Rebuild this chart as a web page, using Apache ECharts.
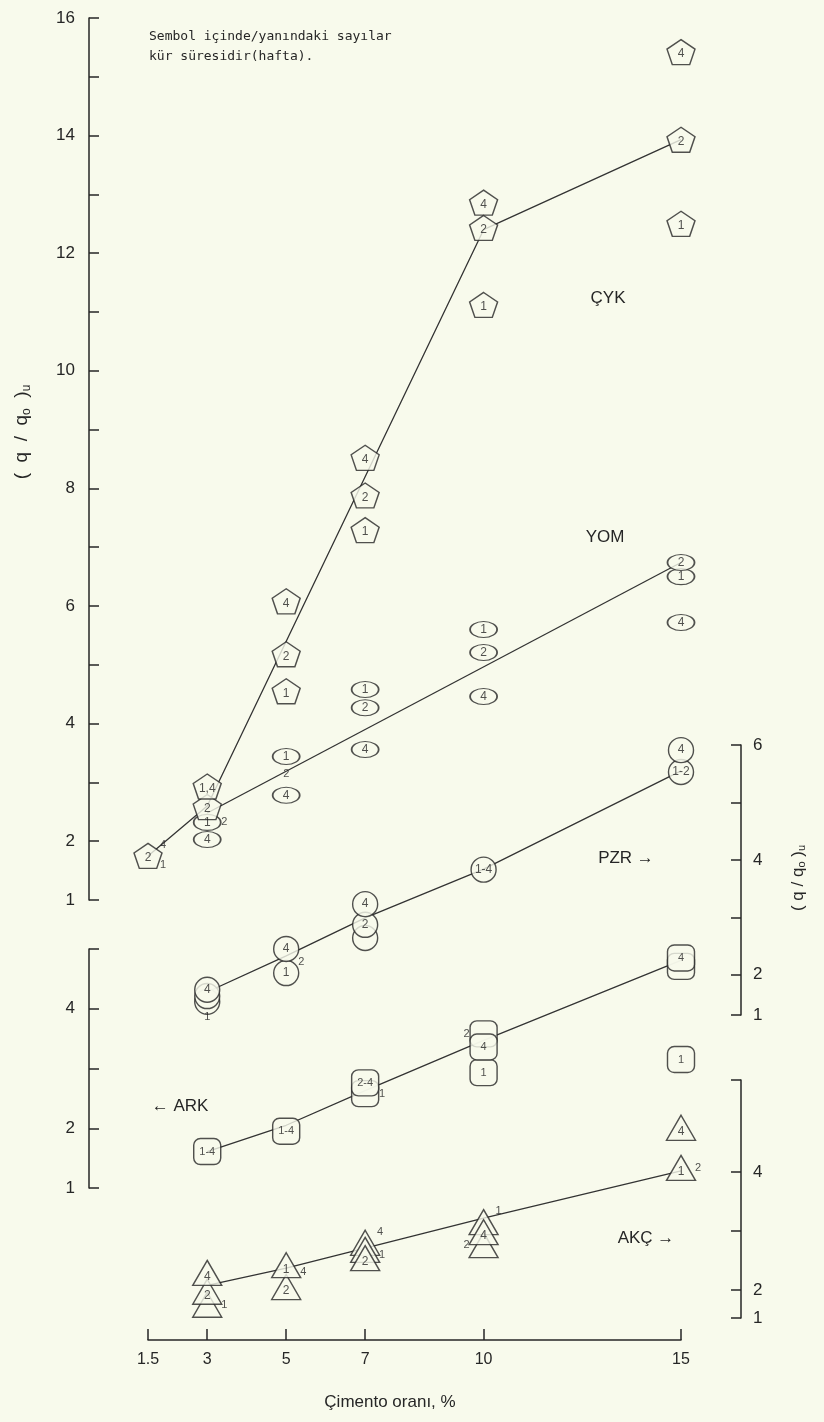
<!DOCTYPE html>
<html><head><meta charset="utf-8">
<script src="https://cdn.jsdelivr.net/npm/echarts@6/dist/echarts.min.js"></script>
<style>html,body{margin:0;padding:0;background:#f8faec}#c{width:824px;height:1422px}</style>
</head><body><div id="c"></div>
<script>
// ---------- data ----------
const xTicks = [1.5, 3, 5, 7, 10, 15];
const leftTopLabels = [1, 2, 4, 6, 8, 10, 12, 14, 16];
const arkLabels = [1, 2, 4];
const pzrLabels = [1, 2, 4, 6];
const akcLabels = [1, 2, 4];

// [cement %, (q/qo)u, cure weeks label]
const cykPoints = [
  [1.5, 1.75, '2'],
  [3, 2.58, '2'], [3, 2.93, '1,4'],
  [5, 4.55, '1'], [5, 5.18, '2'], [5, 6.08, '4'],
  [7, 7.29, '1'], [7, 7.88, '2'], [7, 8.52, '4'],
  [10, 11.12, '1'], [10, 12.86, '4'], [10, 12.43, '2'],
  [15, 12.5, '1'], [15, 13.93, '2'], [15, 15.42, '4']
];
const cykLine = [[1.5, 1.75], [3, 2.6], [10, 12.4], [15, 13.93]];
const cykNotes = [[1.5, 1.75, '4', 'ne'], [1.5, 1.75, '1', 'se']];

const yomPoints = [
  [3, 2.03, '4'], [3, 2.32, '1'],
  [5, 2.78, '4'], [5, 3.44, '1'],
  [7, 3.56, '4'], [7, 4.27, '2'], [7, 4.58, '1'],
  [10, 4.46, '4'], [10, 5.21, '2'], [10, 5.6, '1'],
  [15, 5.72, '4'], [15, 6.5, '1'], [15, 6.74, '2']
];
const yomLine = [[3, 2.48], [15, 6.74]];
const yomNotes = [[3, 2.32, '2', 'e'], [5, 3.14, '2', 'c']];

const pzrPoints = [
  [3, 1.53, ''], [3, 1.63, ''], [3, 1.74, '4'],
  [5, 2.03, '1'], [5, 2.45, '4'],
  [7, 2.64, ''], [7, 2.87, '2'], [7, 3.23, '4'],
  [10, 3.83, '1-4'],
  [15, 5.53, '1-2'], [15, 5.91, '4']
];
const pzrLine = [[3, 1.7], [5, 2.33], [7, 2.99], [10, 3.84], [15, 5.55]];
const pzrNotes = [[3, 1.53, '1', 's'], [5, 2.03, '2', 'ne']];

const arkPoints = [
  [3, 1.61, '1-4'],
  [5, 1.95, '1-4'],
  [7, 2.58, ''], [7, 2.76, '2-4'],
  [10, 3.58, ''], [10, 2.93, '1'], [10, 3.36, '4'],
  [15, 4.71, ''], [15, 4.85, '4'],
  [15, 3.15, '1']
];
const arkLine = [[3, 1.61], [5, 2.05], [7, 2.63], [10, 3.47], [15, 4.81]];
const arkNotes = [[7, 2.58, '1', 'e'], [10, 3.58, '2', 'w']];

const akcPoints = [
  [3, 1.75, ''], [3, 1.97, '2'], [3, 2.29, '4'],
  [5, 2.05, '2'], [5, 2.42, '1'],
  [7, 2.8, ''], [7, 2.68, ''], [7, 2.54, '2'],
  [10, 3.15, ''], [10, 2.76, ''], [10, 2.98, '4'],
  [15, 4.07, '1'], [15, 4.75, '4']
];
const akcLine = [[3, 2.08], [5, 2.37], [7, 2.71], [10, 3.22], [15, 4.02]];
const akcNotes = [[3, 1.75, '1', 'e'], [5, 2.3, '4', 'e'], [7, 2.8, '4', 'ne'], [7, 2.6, '1', 'e'],
  [10, 3.15, '1', 'ne'], [10, 2.76, '2', 'w'], [15, 4.07, '2', 'e']];

// ---------- style ----------
const BG = '#f8faec', INK = '#262626';
const FONT = 'Liberation Sans';
const PZR_MIN = 1.3, AKC_MIN = 1.525, AKC_MAX = 5.56;
const pentagon = 'path://M50,0 L100,38 L81,100 L19,100 L0,38 Z';

const chart = echarts.init(document.getElementById('c'), null, {renderer: 'canvas'});

const grids = [
  {left: 148, width: 533, top: 18, height: 882},    // CYK / YOM
  {left: 148, width: 533, top: 949, height: 239},   // ARK
  {left: 148, width: 533, top: 745, height: 270},   // PZR
  {left: 148, width: 533, top: 1080, height: 238}   // AKC
];

function xAx(i, show) {
  return {
    gridIndex: i, type: 'value', min: 1.5, max: 15, show: show,
    position: 'bottom', offset: 22,
    axisLine: {show: true, lineStyle: {color: INK, width: 1.5}},
    axisTick: {show: true, inside: true, length: 11, customValues: xTicks, lineStyle: {color: INK, width: 1.5}},
    axisLabel: {show: true, customValues: xTicks, color: INK, fontFamily: FONT, fontSize: 16, margin: 12},
    splitLine: {show: false}
  };
}
function yAx(i, pos, min, max, tickVals, labelVals, fmt) {
  return {
    gridIndex: i, type: 'value', min: min, max: max, position: pos, offset: pos === 'left' ? 59 : 60,
    axisLine: {show: true, lineStyle: {color: INK, width: 1.5}},
    axisTick: {show: true, inside: true, length: 10, customValues: tickVals, lineStyle: {color: INK, width: 1.5}},
    axisLabel: {show: true, customValues: labelVals, color: INK, fontFamily: FONT, fontSize: 17,
      margin: pos === 'left' ? 14 : 12, formatter: fmt || (v => String(v))},
    splitLine: {show: false}
  };
}
const range = (a, b) => { const r = []; for (let v = a; v <= b; v++) r.push(v); return r; };

const offsets = {e: [17, 0], ne: [15, -11], se: [15, 9], w: [-17, 0], s: [0, 15], c: [0, 0]};

function markSeries(idx, pts, symbol, size, labelOffset, fs) {
  return {
    type: 'scatter', xAxisIndex: idx, yAxisIndex: idx, z: 3,
    symbol: symbol, symbolSize: size,
    itemStyle: {color: BG, borderColor: INK, borderWidth: 1.4},
    label: {show: true, position: 'inside', offset: labelOffset, color: INK, fontFamily: FONT, fontSize: fs || 12,
      formatter: p => p.name},
    emphasis: {disabled: true},
    data: pts.map(p => ({value: [p[0], p[1]], name: p[2]}))
  };
}
function lineSeries(idx, pts) {
  return {
    type: 'line', xAxisIndex: idx, yAxisIndex: idx, z: 2, symbol: 'none', silent: true,
    lineStyle: {color: '#333', width: 1.3}, data: pts
  };
}
function noteSeries(idx, notes) {
  return {
    type: 'scatter', xAxisIndex: idx, yAxisIndex: idx, z: 4, symbol: 'circle', symbolSize: 1,
    itemStyle: {color: 'rgba(0,0,0,0)'}, emphasis: {disabled: true}, silent: true,
    data: notes.map(n => ({value: [n[0], n[1]], name: n[2],
      label: {show: true, position: 'inside', offset: offsets[n[3]], color: INK, fontFamily: FONT, fontSize: 11,
        formatter: p => p.name}}))
  };
}

const richL = {
  b: {fontFamily: FONT, fontSize: 19, fill: INK},
  s: {fontFamily: FONT, fontSize: 12, fill: INK, verticalAlign: 'bottom', padding: [9, 0, 0, 0]}
};
const richR = {
  b: {fontFamily: FONT, fontSize: 17, fill: INK},
  s: {fontFamily: FONT, fontSize: 11, fill: INK, verticalAlign: 'bottom', padding: [8, 0, 0, 0]}
};

const option = {
  backgroundColor: BG,
  animation: false,
  grid: grids,
  xAxis: [xAx(0, false), xAx(1, false), xAx(2, false), xAx(3, true)],
  yAxis: [
    yAx(0, 'left', 1, 16, range(1, 16), leftTopLabels),
    yAx(1, 'left', 1, 5, range(1, 5), arkLabels),
    yAx(2, 'right', PZR_MIN, 6, [PZR_MIN, 2, 3, 4, 5, 6], [PZR_MIN, 2, 4, 6], v => v < 1.9 ? '1' : String(v)),
    yAx(3, 'right', AKC_MIN, AKC_MAX, [AKC_MIN, 2, 3, 4, AKC_MAX], [AKC_MIN, 2, 4], v => v < 1.9 ? '1' : String(v))
  ],
  series: [
    lineSeries(0, cykLine), lineSeries(0, yomLine),
    lineSeries(2, pzrLine), lineSeries(1, arkLine), lineSeries(3, akcLine),
    markSeries(0, yomPoints, 'circle', [27, 16], [0, 0], 12),
    markSeries(0, cykPoints, pentagon, [28, 25], [0, 2], 12),
    markSeries(2, pzrPoints, 'circle', 25, [0, 0], 12),
    markSeries(1, arkPoints, 'roundRect', [27, 26], [0, 0], 11),
    markSeries(3, akcPoints, 'triangle', [29, 25], [0, 4], 12),
    noteSeries(0, cykNotes), noteSeries(0, yomNotes), noteSeries(2, pzrNotes),
    noteSeries(1, arkNotes), noteSeries(3, akcNotes)
  ],
  graphic: [
    {type: 'text', left: 149, top: 30, style: {text: 'Sembol içinde/yanındaki sayılar', font: '13px "DejaVu Sans Mono"', fill: INK}},
    {type: 'text', left: 149, top: 50, style: {text: 'kür süresidir(hafta).', font: '13px "DejaVu Sans Mono"', fill: INK}},
    {type: 'text', x: 608, y: 298, style: {text: 'ÇYK', font: '17px "Liberation Sans"', fill: INK, align: 'center', verticalAlign: 'middle'}},
    {type: 'text', x: 605, y: 537, style: {text: 'YOM', font: '17px "Liberation Sans"', fill: INK, align: 'center', verticalAlign: 'middle'}},
    {type: 'text', x: 626, y: 858, style: {text: 'PZR →', font: '17px "Liberation Sans"', fill: INK, align: 'center', verticalAlign: 'middle'}},
    {type: 'text', x: 180, y: 1106, style: {text: '← ARK', font: '17px "Liberation Sans"', fill: INK, align: 'center', verticalAlign: 'middle'}},
    {type: 'text', x: 646, y: 1238, style: {text: 'AKÇ →', font: '17px "Liberation Sans"', fill: INK, align: 'center', verticalAlign: 'middle'}},
    {type: 'text', x: 390, y: 1402, style: {text: 'Çimento oranı, %', font: '17px "Liberation Sans"', fill: INK, align: 'center', verticalAlign: 'middle'}},
    {type: 'text', x: 22, y: 432, rotation: Math.PI / 2,
      style: {text: '{b|(  q  /  q}{s|o}{b|  )}{s|u}', rich: richL, align: 'center', verticalAlign: 'middle'}},
    {type: 'text', x: 798, y: 878, rotation: Math.PI / 2,
      style: {text: '{b|( q / q}{s|o}{b| )}{s|u}', rich: richR, align: 'center', verticalAlign: 'middle'}}
  ]
};
chart.setOption(option);
</script>
</body></html>
